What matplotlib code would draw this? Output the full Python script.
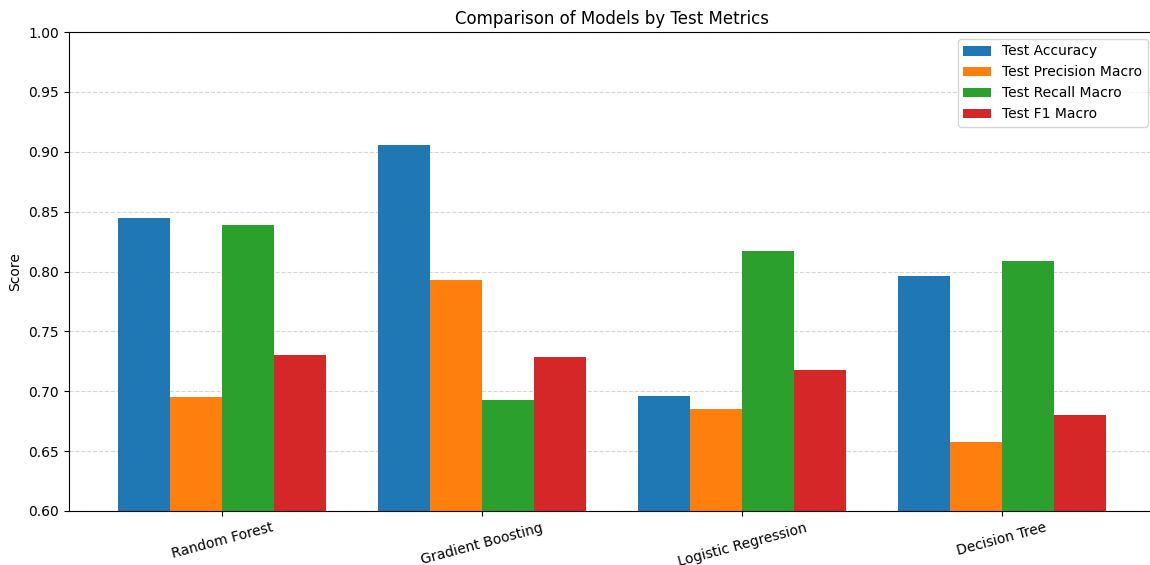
import numpy as np
import matplotlib.pyplot as plt

models = ["Random Forest", "Gradient Boosting", "Logistic Regression", "Decision Tree"]
metrics = ["Test Accuracy", "Test Precision Macro", "Test Recall Macro", "Test F1 Macro"]
accuracy = [0.845, 0.906, 0.696, 0.796]
precision = [0.695, 0.793, 0.685, 0.658]
recall = [0.839, 0.693, 0.817, 0.809]
f1 = [0.730, 0.729, 0.718, 0.680]

series = [accuracy, precision, recall, f1]
x = np.arange(len(models))
width = 0.2

fig = plt.figure(figsize=(11.5, 5.65), dpi=100)
# the reference is cropped on the right, so the axes run a bit past the edge
ax = fig.add_axes([68.6 / 1150, 54 / 565, 1086.8 / 1150, 479 / 565])
for i, (name, vals) in enumerate(zip(metrics, series)):
    ax.bar(x + (i - 1.5) * width, vals, width, label=name)

ax.set_title("Comparison of Models by Test Metrics")
ax.set_ylabel("Score")
ax.set_ylim(0.6, 1.0)
ax.set_xticks(x)
ax.set_xticklabels(models, rotation=15)
ax.grid(axis="y", linestyle="--", alpha=0.5)
ax.set_axisbelow(True)
ax.legend(loc="upper right", bbox_to_anchor=((1155 - 68.6) / 1086.8, 1.0))
plt.savefig("out.png")
